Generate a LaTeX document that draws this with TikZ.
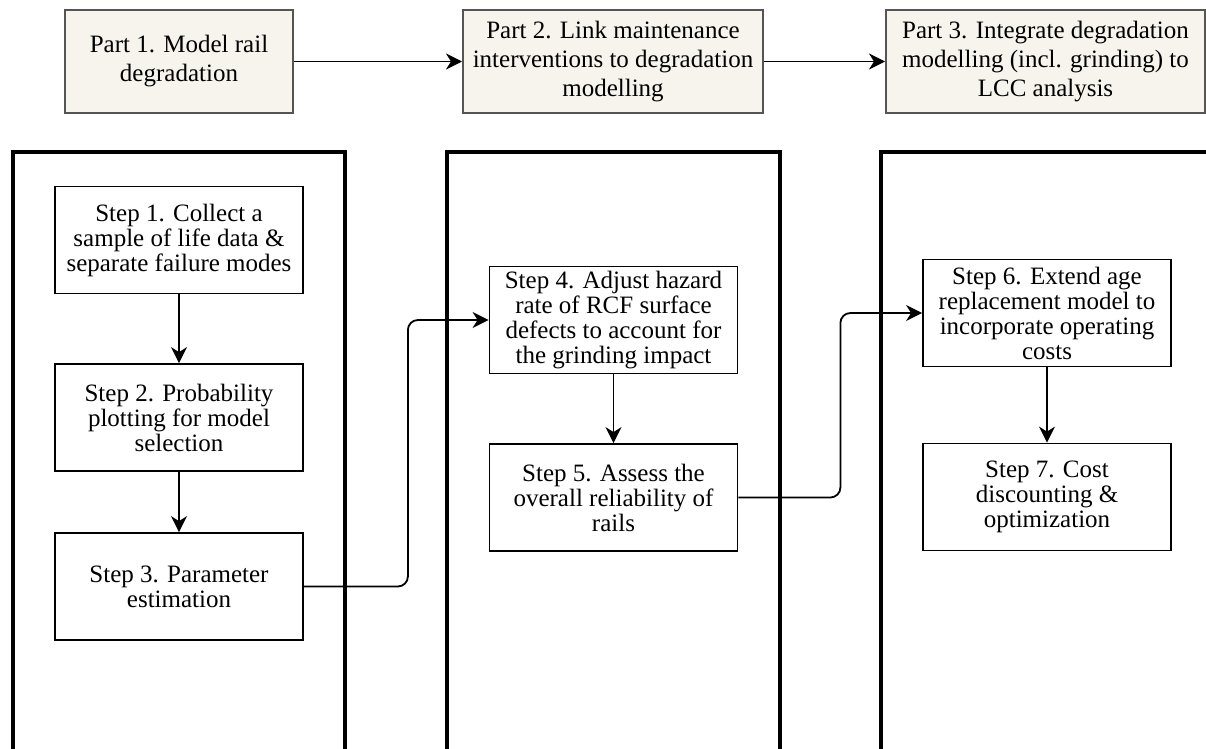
\documentclass[tikz,border=0pt]{standalone}
\usepackage{fontspec}
\setmainfont{Liberation Serif}
\usetikzlibrary{arrows.meta}
\definecolor{partfill}{HTML}{F6F4EC}
\definecolor{partline}{HTML}{555555}
\begin{document}
\begin{tikzpicture}[x=0.5pt,y=-0.5pt,
    >={Stealth[length=8pt,width=8pt,inset=2.5pt]},
    partbox/.style={draw=partline, fill=partfill, line width=1pt, minimum height=51.5pt, inner sep=1pt, align=center, font=\fontsize{12.5}{14.5}\selectfont},
    stepbox/.style={draw, line width=0.9pt, minimum width=124pt, minimum height=53.5pt, inner sep=1pt, align=center, font=\fontsize{12.5}{12.5}\selectfont},
    panel/.style={line width=1.6pt},
    conn/.style={line width=0.9pt, ->, rounded corners=5pt}]
    \useasboundingbox (0,0) rectangle (1206,749);
    \clip (0,0) rectangle (1206,749);

    \draw[panel] (13,770) -- (13,152) -- (345,152) -- (345,770);
    \draw[panel] (447,770) -- (447,152) -- (780,152) -- (780,770);
    \draw[panel] (881,770) -- (881,152) -- (1220,152);

    \node[partbox, minimum width=114pt] (p1) at (179,61.5) {Part 1. Model rail\\degradation};
    \node[partbox, minimum width=150pt] (p2) at (613,61.5) {Part 2. Link maintenance\\interventions to degradation\\modelling};
    \node[partbox, minimum width=159.5pt] (p3) at (1045.5,61.5) {Part 3. Integrate degradation\\modelling (incl. grinding) to\\LCC analysis};
    \draw[conn] (p1.east) -- (p2.west);
    \draw[conn] (p2.east) -- (p3.west);

    \node[stepbox] (s1) at (179,240) {Step 1. Collect a\\sample of life data \&\\separate failure modes};
    \node[stepbox] (s2) at (179,417.5) {Step 2. Probability\\plotting for model\\selection};
    \node[stepbox] (s3) at (179,586.5) {Step 3. Parameter\\estimation};
    \node[stepbox] (s4) at (613.5,320) {Step 4. Adjust hazard\\rate of RCF surface\\defects to account for\\the grinding impact};
    \node[stepbox] (s5) at (613.5,497.5) {Step 5. Assess the\\overall reliability of\\rails};
    \node[stepbox] (s6) at (1047,313) {Step 6. Extend age\\replacement model to\\incorporate operating\\costs};
    \node[stepbox] (s7) at (1047,497) {Step 7. Cost\\discounting \&\\optimization};

    \draw[conn] (s1.south) -- (s2.north);
    \draw[conn] (s2.south) -- (s3.north);
    \draw[conn] (s3.east) -- ++(104,0) |- (s4.west);
    \draw[conn] (s4.south) -- (s5.north);
    \draw[conn] (s5.east) -- ++(102,0) |- (s6.west);
    \draw[conn] (s6.south) -- (s7.north);

\end{tikzpicture}
\end{document}
